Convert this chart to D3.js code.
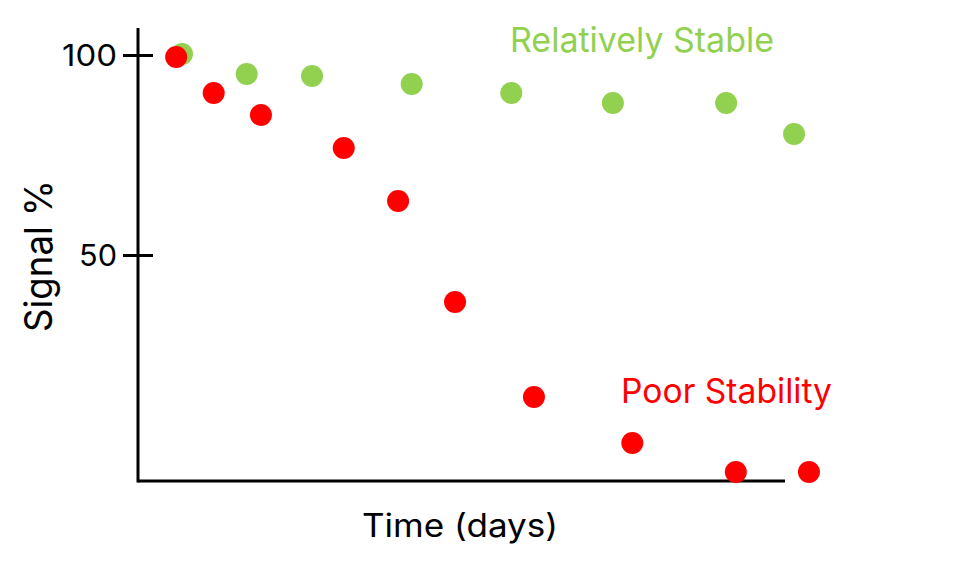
<!DOCTYPE html>
<html><head><meta charset="utf-8">
<script src="https://cdn.jsdelivr.net/npm/d3@7"></script>
<style>body{margin:0;background:#fff}svg{display:block}text{font-family:Inter,"Open Sans",sans-serif}</style>
</head><body><svg id="c" width="980" height="577"></svg>
<script>
// Data (time in arbitrary day units, signal in %)
const stableTime = [6.8, 16.8, 26.9, 42.3, 57.7, 73.4, 90.9, 101.4];
const stableSignal = [100.25, 95.25, 94.75, 92.75, 90.5, 88, 88, 80.25];
const poorTime = [5.9, 11.7, 19.0, 31.8, 40.2, 49.0, 61.2, 76.4, 92.4, 103.7];
const poorSignal = [99.5, 90.5, 85, 76.75, 63.5, 38.25, 14.5, 3, -4.25, -4.25];
const yTicks = [50, 100];
const seriesLabels = ["Relatively Stable", "Poor Stability"];
const seriesColors = ["#92D050", "#FF0000"];

const svg = d3.select("#c");
const x = d3.scaleLinear().domain([0, 100]).range([138, 785]);
const y = d3.scaleLinear().domain([-6.5, 106.75]).range([481, 28]);

// y axis
const yAxis = d3.axisLeft(y).tickValues(yTicks).tickSize(15).tickPadding(6).tickFormat(d3.format("d"));
const gy = svg.append("g").attr("transform", `translate(${x(0)},0)`).call(yAxis);
gy.select(".domain").remove();
gy.selectAll(".tick line").attr("x1", 15).attr("stroke", "#000").attr("stroke-width", 3);
gy.selectAll(".tick text").attr("font-size", 30).attr("font-family", "Inter, sans-serif").attr("fill", "#000")
  .attr("dy", "0.36em").attr("textLength", d => d >= 100 ? 55 : 38).attr("lengthAdjust", "spacingAndGlyphs");

svg.append("line").attr("x1", x(0)).attr("x2", x(0)).attr("y1", y.range()[1]).attr("y2", y.range()[0] + 1.5)
  .attr("stroke", "#000").attr("stroke-width", 3);
svg.append("line").attr("x1", x(0)).attr("x2", x(100)).attr("y1", y.range()[0]).attr("y2", y.range()[0])
  .attr("stroke", "#000").attr("stroke-width", 3);

// axis titles
svg.append("text").attr("x", 460).attr("y", 537).attr("text-anchor", "middle").attr("font-size", 32)
  .attr("textLength", 196).attr("lengthAdjust", "spacingAndGlyphs").attr("fill", "#000").text("Time (days)");
svg.append("text").attr("transform", "translate(52,256) rotate(-90)").attr("text-anchor", "middle").attr("font-size", 38)
  .attr("textLength", 152).attr("lengthAdjust", "spacingAndGlyphs").attr("fill", "#000").text("Signal %");

// points
const stable = stableTime.map((t, i) => ({t, s: stableSignal[i]}));
const poor = poorTime.map((t, i) => ({t, s: poorSignal[i]}));
svg.append("g").selectAll("circle").data(stable).join("circle")
  .attr("cx", d => x(d.t)).attr("cy", d => y(d.s)).attr("r", 11).attr("fill", seriesColors[0]);
svg.append("g").selectAll("circle").data(poor).join("circle")
  .attr("cx", d => x(d.t)).attr("cy", d => y(d.s)).attr("r", 11).attr("fill", seriesColors[1]);

// series labels
svg.append("text").attr("x", 510).attr("y", 52).attr("font-size", 34).attr("textLength", 264)
  .attr("lengthAdjust", "spacingAndGlyphs").attr("fill", seriesColors[0]).text(seriesLabels[0]);
svg.append("text").attr("x", 621).attr("y", 403).attr("font-size", 34).attr("textLength", 211)
  .attr("lengthAdjust", "spacingAndGlyphs").attr("fill", seriesColors[1]).text(seriesLabels[1]);
</script></body></html>
